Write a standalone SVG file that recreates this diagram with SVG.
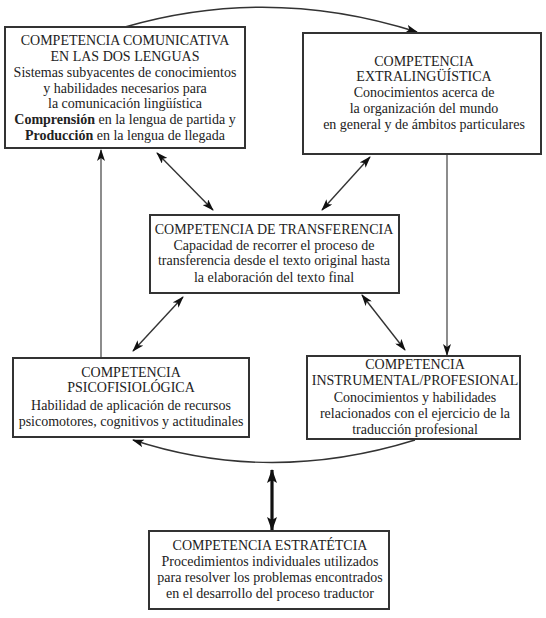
<svg xmlns="http://www.w3.org/2000/svg" width="546" height="618" viewBox="0 0 546 618">
  <style>
    .box { fill: #ffffff; stroke: #333333; stroke-width: 2; }
    .txt { font-family: "Liberation Serif", "Times New Roman", serif; font-size: 14px; fill: #222222; text-anchor: middle; }
    .b { font-weight: bold; }
    .line { fill: none; stroke: #333333; stroke-width: 1.4; }
    .grey { stroke: #707070; stroke-width: 1.6; }
    .thick { fill: none; stroke: #111111; stroke-width: 3.2; }
  </style>
  <defs>
    <marker id="head" viewBox="0 0 12 8" refX="11" refY="4" markerWidth="12" markerHeight="8" markerUnits="userSpaceOnUse" orient="auto-start-reverse">
      <path d="M0,0 L12,4 L0,8 L3,4 z" fill="#111111"/>
    </marker>
    <marker id="headBig" viewBox="0 0 14 10" refX="13" refY="5" markerWidth="14" markerHeight="10" markerUnits="userSpaceOnUse" orient="auto-start-reverse">
      <path d="M0,0 L14,5 L0,10 L3,5 z" fill="#111111"/>
    </marker>
  </defs>
  <rect width="546" height="618" fill="#ffffff"/>

  <g id="connectors">
    <!-- arc from comunicativa to extralingüística -->
    <path class="line" d="M125,27 Q270,-15 417,32" marker-end="url(#head)"/>
    <!-- psicofisiológica up to comunicativa -->
    <path class="line grey" d="M101,358 L101,150" marker-end="url(#head)"/>
    <!-- extralingüística down to instrumental -->
    <path class="line grey" d="M447,154 L447,355" marker-end="url(#head)"/>
    <!-- two-way links with transferencia -->
    <path class="line" d="M157,153 L213,210" marker-start="url(#head)" marker-end="url(#head)"/>
    <path class="line" d="M370,157 L322,210" marker-start="url(#head)" marker-end="url(#head)"/>
    <path class="line" d="M183,297 L133,351" marker-start="url(#head)" marker-end="url(#head)"/>
    <path class="line" d="M362,295 L405,350" marker-start="url(#head)" marker-end="url(#head)"/>
    <!-- arc from instrumental back to psicofisiológica -->
    <path class="line" d="M415,440 Q270,485 133,440" marker-end="url(#head)"/>
    <!-- strategic competence link -->
    <path class="thick" d="M272,470 L272,530" marker-start="url(#headBig)" marker-end="url(#headBig)"/>
  </g>

  <g id="comunicativa">
    <rect class="box" x="5" y="27" width="240" height="121"/>
    <text class="txt" x="125" y="45">COMPETENCIA COMUNICATIVA</text>
    <text class="txt" x="125" y="61">EN LAS DOS LENGUAS</text>
    <text class="txt" x="125" y="77">Sistemas subyacentes de conocimientos</text>
    <text class="txt" x="125" y="93">y habilidades necesarios para</text>
    <text class="txt" x="125" y="108">la comunicación lingüística</text>
    <text class="txt" x="125" y="124"><tspan class="b">Comprensión</tspan> en la lengua de partida y</text>
    <text class="txt" x="125" y="140"><tspan class="b">Producción</tspan> en la lengua de llegada</text>
  </g>

  <g id="extralinguistica">
    <rect class="box" x="303" y="33" width="238" height="121"/>
    <text class="txt" x="424" y="66">COMPETENCIA</text>
    <text class="txt" x="424" y="81">EXTRALINGÜÍSTICA</text>
    <text class="txt" x="424" y="97">Conocimientos acerca de</text>
    <text class="txt" x="424" y="113">la organización del mundo</text>
    <text class="txt" x="424" y="129">en general y de ámbitos particulares</text>
  </g>

  <g id="transferencia">
    <rect class="box" x="150" y="215" width="249" height="78"/>
    <text class="txt" x="274" y="234">COMPETENCIA DE TRANSFERENCIA</text>
    <text class="txt" x="274" y="250">Capacidad de recorrer el proceso de</text>
    <text class="txt" x="274" y="265">transferencia desde el texto original hasta</text>
    <text class="txt" x="274" y="282">la elaboración del texto final</text>
  </g>

  <g id="psicofisiologica">
    <rect class="box" x="13" y="358" width="236" height="79"/>
    <text class="txt" x="131" y="377">COMPETENCIA</text>
    <text class="txt" x="131" y="392">PSICOFISIOLÓGICA</text>
    <text class="txt" x="131" y="410">Habilidad de aplicación de recursos</text>
    <text class="txt" x="131" y="426">psicomotores, cognitivos y actitudinales</text>
  </g>

  <g id="instrumental">
    <rect class="box" x="307" y="356" width="213" height="83"/>
    <text class="txt" x="415" y="369">COMPETENCIA</text>
    <text class="txt" x="415" y="385">INSTRUMENTAL/PROFESIONAL</text>
    <text class="txt" x="415" y="402">Conocimientos y habilidades</text>
    <text class="txt" x="415" y="418">relacionados con el ejercicio de la</text>
    <text class="txt" x="415" y="434">traducción profesional</text>
  </g>

  <g id="estrategica">
    <rect class="box" x="149" y="531" width="240" height="78"/>
    <text class="txt" x="270" y="550">COMPETENCIA ESTRATÉTCIA</text>
    <text class="txt" x="270" y="566">Procedimientos individuales utilizados</text>
    <text class="txt" x="270" y="582">para resolver los problemas encontrados</text>
    <text class="txt" x="270" y="598">en el desarrollo del proceso traductor</text>
  </g>
</svg>
